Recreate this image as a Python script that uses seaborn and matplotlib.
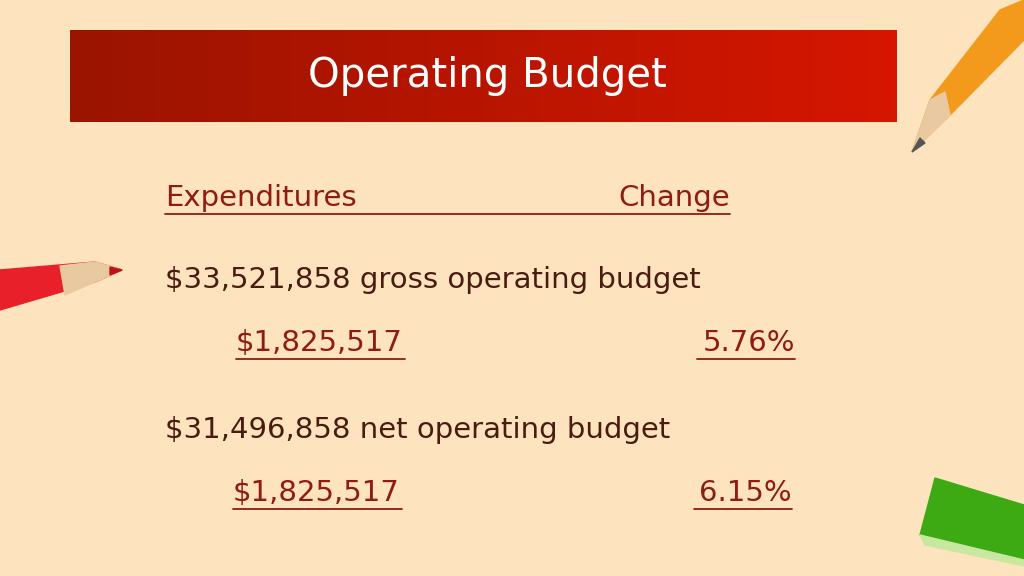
import matplotlib
matplotlib.use("Agg")
import matplotlib.pyplot as plt
import seaborn as sns
import numpy as np
from matplotlib.patches import Polygon

title = "Operating Budget"
headers = ["Expenditures", "Change"]
budget_labels = ["$33,521,858 gross operating budget", "$31,496,858 net operating budget"]
amounts = ["$1,825,517", "$1,825,517"]
changes = ["5.76%", "6.15%"]

sns.set_theme(style="white")
fig = plt.figure(figsize=(10.24, 5.76), dpi=100)
fig.patch.set_facecolor("#FDE4BE")
ax = fig.add_axes([0, 0, 1, 1])
ax.set_xlim(0, 1024); ax.set_ylim(576, 0); ax.axis("off")
ax.set_facecolor("#FDE4BE")

# banner gradient
grad = np.linspace(0, 1, 256)[None, :]
from matplotlib.colors import LinearSegmentedColormap
cm = LinearSegmentedColormap.from_list("r", ["#9A1400", "#D61600"])
ax.imshow(grad, cmap=cm, extent=[70, 897, 122, 30], aspect="auto", zorder=1)
ax.text(487, 76, title, color="white", fontsize=29, ha="center", va="center",
        family="DejaVu Sans Condensed", zorder=2)

fam = "DejaVu Sans Condensed"
hc = "#8E1B14"
tc = "#4A1C10"
fs = 21
ax.text(165, 198, headers[0], color=hc, fontsize=fs, va="center", family=fam)
ax.text(730, 198, headers[1], color=hc, fontsize=fs, va="center", ha="right", family=fam)
ax.plot([165, 730], [214, 214], color=hc, lw=1.3)

ys = [280, 430]
for i, y in enumerate(ys):
    ax.text(165, y, budget_labels[i], color=tc, fontsize=fs, va="center", family=fam)
    t1 = ax.text(236 - 3*i, y + 63, amounts[i], color=hc, fontsize=fs, va="center", family=fam)
    ax.plot([236 - 3*i, 405 - 3*i], [y + 79, y + 79], color=hc, lw=1.3)
    ax.text(795 - 3*i, y + 63, changes[i], color=hc, fontsize=fs, va="center", ha="right", family=fam)
    ax.plot([697 - 3*i, 795 - 3*i], [y + 79, y + 79], color=hc, lw=1.3)

# pencils
ax.add_patch(Polygon([[0, 270], [95, 262], [122, 270], [95, 282], [0, 310]], color="#E8202A", zorder=3))
ax.add_patch(Polygon([[60, 266], [95, 262], [122, 270], [95, 282], [65, 295]], color="#E9C9A0", zorder=4))
ax.add_patch(Polygon([[110, 267], [122, 270], [110, 275]], color="#C01018", zorder=5))
ax.add_patch(Polygon([[1024, 0], [1024, 40], [950, 115], [912, 152], [930, 100], [1000, 10]], color="#F39A1C", zorder=3))
ax.add_patch(Polygon([[950, 115], [912, 152], [930, 100], [945, 92]], color="#E9C9A0", zorder=4))
ax.add_patch(Polygon([[920, 138], [912, 152], [925, 143]], color="#555555", zorder=5))
ax.add_patch(Polygon([[935, 478], [1024, 505], [1024, 560], [920, 535]], color="#3DAA14", zorder=3))
ax.add_patch(Polygon([[920, 535], [1024, 560], [1024, 566], [925, 545]], color="#C8E8A0", zorder=3))

fig.savefig("out.png", dpi=100, facecolor=fig.get_facecolor())
